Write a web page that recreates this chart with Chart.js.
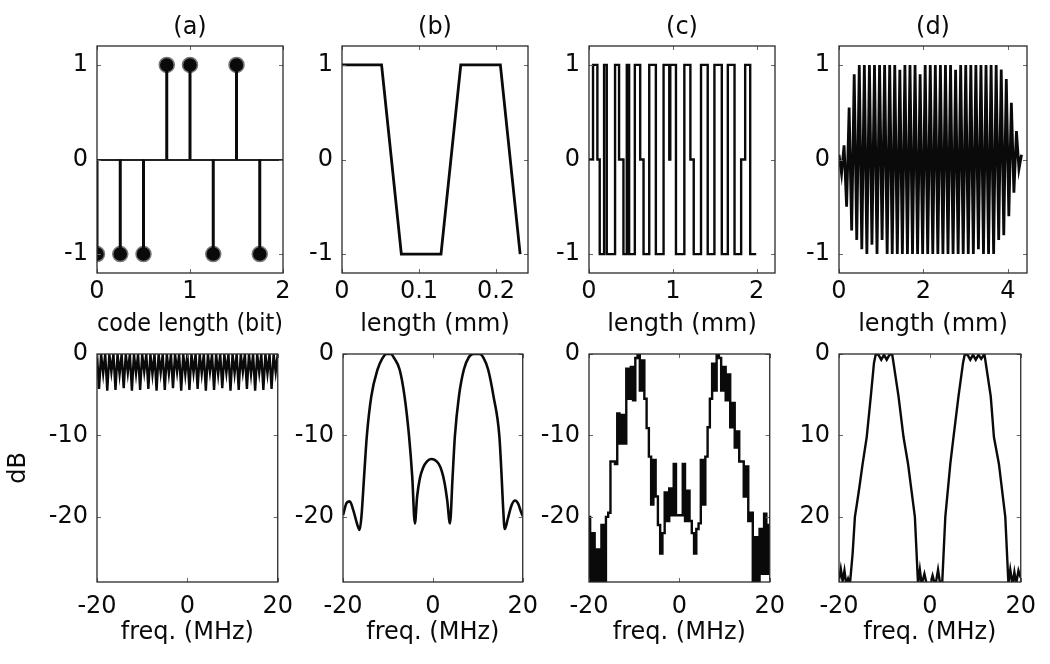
<!DOCTYPE html>
<html>
<head>
<meta charset="utf-8">
<script src="https://cdn.jsdelivr.net/npm/chart.js@4.4.1/dist/chart.umd.min.js"></script>
<style>
  html, body { margin: 0; background: #fff; overflow: hidden; }
  #wrap { position: relative; width: 1050px; height: 664px; overflow: hidden; background: #fff; }
  #wrap canvas { position: absolute; }
</style>
</head>
<body>
<div id="wrap"></div>
<script>
// ---- data ----

// (a) the 8-bit code
const bitPos = [0, 0.25, 0.5, 0.75, 1, 1.25, 1.5, 1.75];
const bitVal = [-1, -1, -1, 1, 1, -1, 1, -1];

// (b) excitation, length (mm) / amplitude
const bLen = [0, 0.0514, 0.0771, 0.1286, 0.1543, 0.2057, 0.2314];
const bAmp = [1, 1, -1, -1, 1, 1, -1];

// (c) level switches: position (mm) where the level changes
const cLen = [0, 0.048, 0.100, 0.128, 0.180, 0.212, 0.311, 0.359, 0.411, 0.451, 0.479,
  0.547, 0.611, 0.651, 0.719, 0.798, 0.890, 0.958, 0.970, 1.038, 1.138, 1.210, 1.250,
  1.337, 1.417, 1.497, 1.585, 1.657, 1.737, 1.816, 1.864, 1.924, 1.996];
const cLvl = [0, 1, 0, -1, 1, -1, 1, 0, -1, 1, -1,
  1, 0, -1, 1, -1, 1, 0, 1, -1, 1, 0, -1,
  1, -1, 1, -1, 1, -1, 0, 1, -1, -1];

// (d) peaks, one every half period
const dStep = 0.06;
const dPeak = [0.05, -0.15, 0.15, -0.5, 0.55, -0.75, 0.9, -0.85, 1, -0.95,
  1, -1, 1, -0.9, 1, -1, 1, -0.85, 1, -1,
  1, -1, 1, -1, 0.95, -1, 1, -1, 1, -1,
  1, -1, 0.9, -1, 1, -1, 1, -1, 1, -1,
  1, -1, 1, -1, 1, -1, 0.95, -1, 1, -1,
  1, -1, 1, -1, 1, -0.95, 1, -1, 1, -1,
  1, -1, 1, -0.85, 0.95, -0.8, 0.85, -0.6, 0.6, -0.35,
  0.3, -0.1, 0.05];

// spectra (dB) over -20..20 MHz
const specA = [
  0, -4.3, 0, -2.4, 0, -4.5, 0, -2.2, 0, -4.4, 0, -2.5, 0, -4.2, 0, -2.3, 0, -4.5, 0, -2.4,
  0, -4.4, 0, -2.2, 0, -4.3, 0, -2.5, 0, -4.5, 0, -2.3, 0, -4.4, 0, -2.4, 0, -4.2, 0, -2.2,
  0, -4.5, 0, -2.5, 0, -4.4, 0, -2.3, 0, -4.3, 0, -2.4, 0, -4.5, 0, -2.2, 0, -4.4, 0, -2.5,
  0, -4.2, 0, -2.3, 0, -4.5, 0, -2.4, 0, -4.4, 0, -2.2, 0, -4.3, 0, -2.5, 0, -4.5, 0, -2.3,
  0, -4.4, 0, -2.4, 0, -4.3, 0, -2.2, 0];

const bFreq = [-20, -19.2, -18.5, -17.7, -16.9, -16.3, -15.9, -15.3, -14.7, -13.7, -12.3, -11.3,
  -10.3, -9.4, -8.5, -7.4, -6.3, -5.3, -4.6, -4, -3.5, -2.9, -2.2, -1.3, -0.4, 0.4, 1.3, 2,
  2.6, 3.2, 3.8, 4.4, 4.9, 5.8, 6.9, 8, 9, 10.4, 11.3, 12.3, 13.5, 14.8, 15.3, 15.6, 16,
  16.7, 17.5, 18.3, 19, 19.5, 20];
const bDb = [-19.8, -18.3, -18.1, -19.2, -20.8, -21.6, -20, -15, -10.1, -5.2, -1.9, -0.6,
  0, 0, -0.6, -1.9, -5.2, -10.1, -15, -20.8, -17.5, -15.3, -14, -13.2, -12.9, -13, -13.5, -14.4,
  -15.8, -18, -20.8, -15, -10.1, -5.2, -1.9, -0.4, 0, 0, -0.5, -1.9, -5.2, -10.1, -15, -18.5, -21.5,
  -20.2, -18.6, -18, -18.4, -19.2, -19.9];

const specC = [-20, -28, -22, -28, -24, -28, -21, -28, -20, -19.5,
  -13.2, -13.2, -13.5, -7.3, -11, -7.5, -11, -1.8, -5.5, -1.6,
  -5.7, -0.5, 0, -4.5, -0.8, -5.5, -9.1, -12.6, -18.5, -13,
  -17.5, -21, -24.5, -22, -17, -20.5, -16.5, -19.8, -13.5, -19.8,
  -19.8, -19.8, -13.5, -20.5, -16.8, -20.5, -22, -24.5, -21.5, -20.8,
  -13, -18.5, -12.6, -9, -5.5, -1.2, -4.5, 0, -0.5, -4.5,
  -1.6, -5.7, -2.5, -9, -6, -11.5, -9.5, -13.2, -13.2, -17.5,
  -13.8, -20.5, -19.5, -28, -22.5, -28, -21.5, -27, -19.6, -27, -21];

// (d) spectrum, attenuation in dB
const dFreq = [-20, -19.6, -19.2, -18.8, -18.4, -18, -17.6, -17, -16.5, -16, -15.5, -14.8,
  -13.9, -13, -12.3, -11.9, -11.3, -10.7, -10.1, -9.5, -8.9, -8.3, -8, -6.9, -5.8, -4.8,
  -3.3, -2.6, -2.2, -1.8, -1.2, -0.6, 0, 0.6, 1.2, 1.8, 2.2, 2.7, 3.4, 4.5, 5.2, 6.3,
  7.3, 7.7, 8.3, 8.9, 9.5, 10.1, 10.7, 11.3, 12, 12.3, 13.4, 14.1, 15.2, 16.6, 17.3,
  17.7, 18.2, 18.6, 19, 19.5, 20];
const dAtt = [27.8, 26.4, 27.9, 26.6, 28.3, 27.6, 28.3, 24.5, 20, 18.2, 16.3, 13.5,
  10.2, 5.2, 1.1, 0, 0.1, 0.7, 0.1, 0.7, 0.1, 0, 1.1, 5.2, 10.2, 13.5,
  20, 28.3, 26.5, 28.3, 27, 28.5, 28.5, 27.2, 28.5, 26.5, 28, 28.3, 20, 13.5, 10.2, 5.2,
  1.1, 0, 0.1, 0.7, 0.1, 0.7, 0.1, 0.6, 0, 1.1, 5.2, 10.2, 13.5, 20, 28.3,
  26.5, 28.3, 26.8, 28.2, 26.6, 27.5];

// tick labels
const ampTicks = [-1, 0, 1];
const dbTicks = [-20, -10, 0];
const attTicks = [0, 10, 20];
const freqTicks = [-20, 0, 20];
const bitTicks = [0, 1, 2];
const bTicks = [0, 0.1, 0.2];
const cTicks = [0, 1, 2];
const dTicks = [0, 2, 4];

// ---- drawing ----
const INK = '#0a0a0a';
const FONT = { family: '"DejaVu Sans", sans-serif', size: 24 };
const wrap = document.getElementById('wrap');

const pts = (xs, ys) => xs.map((x, i) => ({ x, y: ys[i] }));
const grid = (lo, hi, ys) => ys.map((y, i) => ({ x: lo + i * (hi - lo) / (ys.length - 1), y }));

// matlab style box with inward ticks
const frame = {
  id: 'frame',
  afterDraw(chart) {
    const { ctx, chartArea: a, scales: { x, y } } = chart;
    ctx.save();
    ctx.strokeStyle = '#666';
    ctx.lineWidth = 1;
    ctx.beginPath();
    x.ticks.forEach(t => {
      const px = Math.round(x.getPixelForValue(t.value)) + 0.5;
      ctx.moveTo(px, a.bottom); ctx.lineTo(px, a.bottom - 4);
      ctx.moveTo(px, a.top); ctx.lineTo(px, a.top + 4);
    });
    y.ticks.forEach(t => {
      const py = Math.round(y.getPixelForValue(t.value)) + 0.5;
      ctx.moveTo(a.left, py); ctx.lineTo(a.left + 4, py);
      ctx.moveTo(a.right, py); ctx.lineTo(a.right - 4, py);
    });
    ctx.stroke();
    ctx.strokeStyle = '#2a2a2a';
    ctx.lineWidth = 1.3;
    ctx.strokeRect(a.left, a.top, a.right - a.left, a.bottom - a.top);
    ctx.restore();
  }
};

function panel(box, cfg) {
  const yw = cfg.yw || 70, rp = 20;
  const top = cfg.title ? 46 : 25;
  const xh = cfg.title ? 66 : 65;
  const cv = document.createElement('canvas');
  cv.width = box.r - box.l + yw + rp;
  cv.height = box.b - box.t + top + xh;
  cv.style.left = (box.l - yw) + 'px';
  cv.style.top = (box.t - top) + 'px';
  wrap.appendChild(cv);

  const scales = {
    x: {
      type: 'linear', min: cfg.xMin, max: cfg.xMax,
      afterBuildTicks: s => { s.ticks = cfg.xTicks.map(v => ({ value: v })); },
      afterFit: s => { s.height = xh; },
      grid: { display: false, drawTicks: false },
      border: { display: false },
      ticks: { font: FONT, color: INK, padding: cfg.title ? 4 : 10, maxRotation: 0, autoSkip: false,
               callback: v => String(v) },
      title: { display: true, text: cfg.xTitle, font: FONT, color: INK, padding: 0 }
    },
    y: {
      type: 'linear', min: cfg.yMin, max: cfg.yMax, reverse: !!cfg.reverse,
      afterBuildTicks: s => { s.ticks = cfg.yTicks.map(v => ({ value: v })); },
      afterFit: s => { s.width = yw; },
      grid: cfg.zeroLine
        ? { display: true, drawTicks: false, lineWidth: 2,
            color: c => (c.tick && c.tick.value === 0 ? '#222' : 'rgba(0,0,0,0)') }
        : { display: false, drawTicks: false },
      border: { display: false },
      ticks: { font: FONT, color: INK, padding: 9, callback: v => String(v) },
      title: { display: !!cfg.yTitle, text: cfg.yTitle, font: FONT, color: INK, padding: { top: 4, bottom: 0 } }
    }
  };
  if (cfg.title) {
    scales.x2 = {
      type: 'linear', position: 'top', min: cfg.xMin, max: cfg.xMax,
      afterFit: s => { s.height = top; },
      grid: { display: false, drawTicks: false },
      border: { display: false },
      ticks: { display: false },
      title: { display: true, text: cfg.title, font: FONT, color: INK, padding: { top: 13.6, bottom: 0 } }
    };
  }

  new Chart(cv, {
    type: 'line',
    data: { datasets: cfg.datasets },
    options: {
      responsive: false,
      animation: false,
      events: [],
      layout: { padding: { left: 0, right: rp, top: cfg.title ? 0 : top, bottom: 0 } },
      plugins: { legend: { display: false }, tooltip: { enabled: false } },
      elements: { point: { radius: 0 } },
      scales
    },
    plugins: [frame]
  });
}

const line = (data, extra) => Object.assign({
  data, borderColor: INK, borderWidth: 2, pointRadius: 0, fill: false, tension: 0
}, extra || {});

// stems of the code
const stems = [];
bitPos.forEach((x, i) => { stems.push({ x, y: 0 }, { x, y: bitVal[i] }, { x, y: null }); });

// ---- top row ----
panel({ l: 97, t: 46, r: 283, b: 273 }, {
  title: '(a)', xTitle: 'code length (bit)', xMin: 0, xMax: 2, xTicks: bitTicks,
  yMin: -1.2, yMax: 1.2, yTicks: ampTicks, zeroLine: true,
  datasets: [
    line(stems, { borderWidth: 3, spanGaps: false }),
    line(pts(bitPos, bitVal), { showLine: false, pointRadius: 7.5, pointBackgroundColor: INK,
      pointBorderColor: '#777', pointBorderWidth: 1.5 })
  ]
});

panel({ l: 342, t: 46, r: 528, b: 273 }, {
  title: '(b)', xTitle: 'length (mm)', xMin: 0, xMax: 0.2416, xTicks: bTicks,
  yMin: -1.2, yMax: 1.2, yTicks: ampTicks,
  datasets: [line(pts(bLen, bAmp), { borderWidth: 2.8 })]
});

panel({ l: 589, t: 46, r: 775, b: 273 }, {
  title: '(c)', xTitle: 'length (mm)', xMin: 0, xMax: 2.22, xTicks: cTicks,
  yMin: -1.2, yMax: 1.2, yTicks: ampTicks,
  datasets: [line(pts(cLen, cLvl), { stepped: 'before', borderWidth: 2.4 })]
});

panel({ l: 839, t: 46, r: 1027, b: 273 }, {
  title: '(d)', xTitle: 'length (mm)', xMin: 0, xMax: 4.45, xTicks: dTicks,
  yMin: -1.2, yMax: 1.2, yTicks: ampTicks,
  datasets: [line(dPeak.map((y, i) => ({ x: i * dStep, y })), { borderWidth: 2.8 })]
});

// ---- bottom row ----
panel({ l: 97, t: 354, r: 283, b: 582 }, {
  xTitle: 'freq. (MHz)', yTitle: 'dB', yw: 97, xMin: -20, xMax: 20, xTicks: freqTicks,
  yMin: -28, yMax: 0, yTicks: dbTicks,
  datasets: [line(grid(-20, 20, specA), { borderWidth: 2.4 })]
});

panel({ l: 343, t: 354, r: 528, b: 582 }, {
  xTitle: 'freq. (MHz)', xMin: -20, xMax: 20, xTicks: freqTicks,
  yMin: -28, yMax: 0, yTicks: dbTicks,
  datasets: [line(pts(bFreq, bDb), { borderWidth: 2.6, cubicInterpolationMode: 'monotone' })]
});

panel({ l: 589, t: 354, r: 775, b: 582 }, {
  xTitle: 'freq. (MHz)', xMin: -20, xMax: 20, xTicks: freqTicks,
  yMin: -28, yMax: 0, yTicks: dbTicks,
  datasets: [line(grid(-20, 20, specC), { stepped: 'middle', borderWidth: 2.4 })]
});

panel({ l: 839, t: 354, r: 1026, b: 582 }, {
  xTitle: 'freq. (MHz)', xMin: -20, xMax: 20, xTicks: freqTicks,
  yMin: 0, yMax: 28, yTicks: attTicks, reverse: true,
  datasets: [line(pts(dFreq, dAtt), { borderWidth: 2.4 })]
});
</script>
</body>
</html>
